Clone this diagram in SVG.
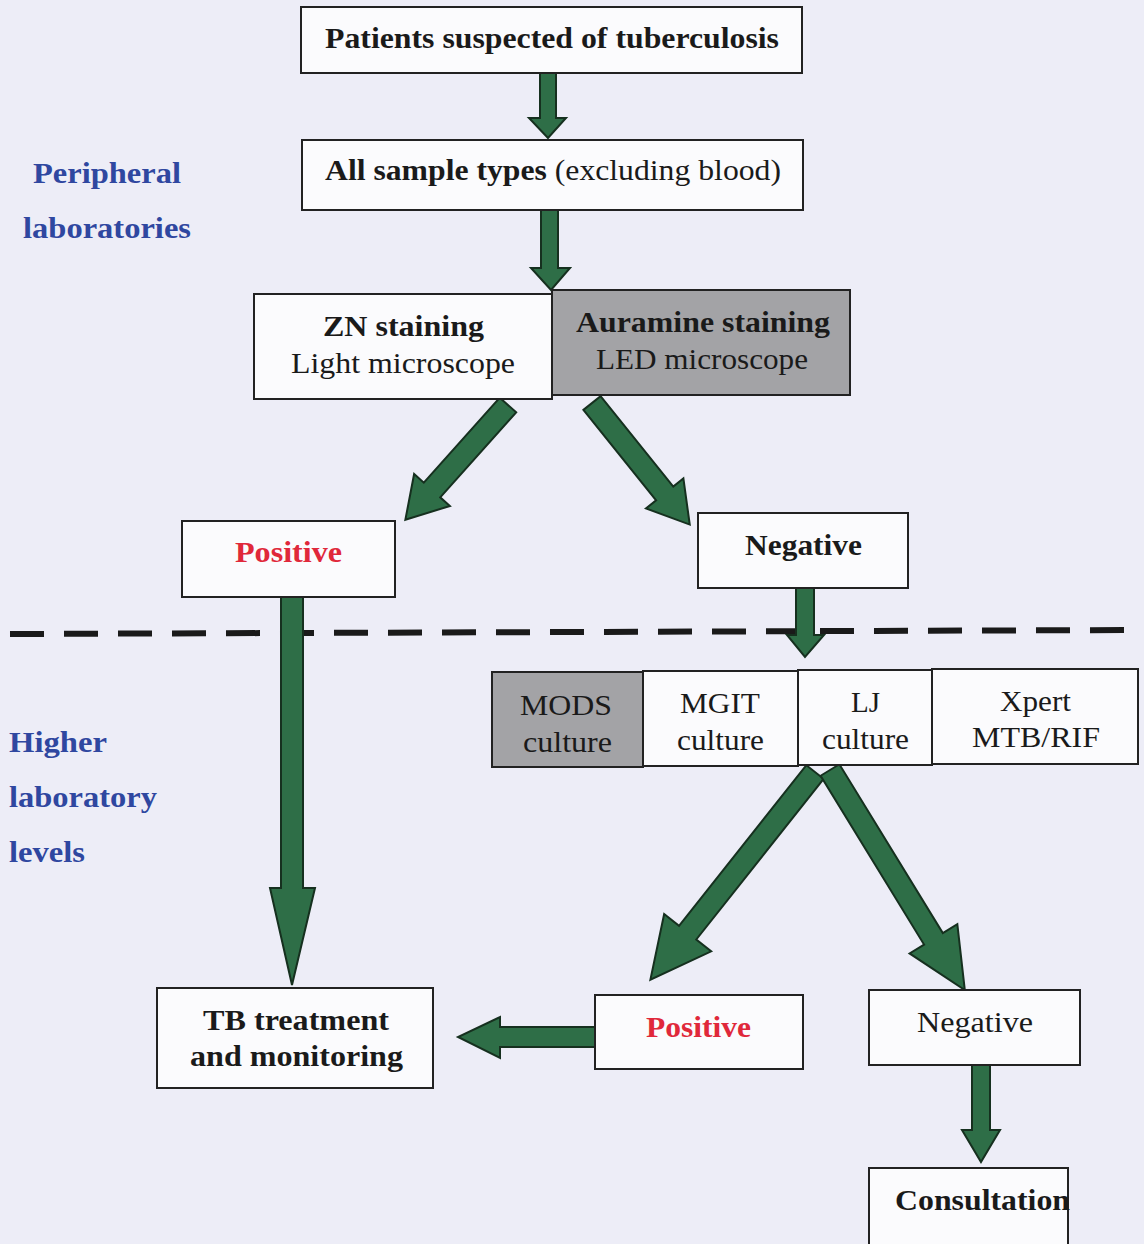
<svg xmlns="http://www.w3.org/2000/svg" width="1144" height="1244" viewBox="0 0 1144 1244" font-family="'Liberation Serif', 'Times New Roman', Times, serif">
<defs>
<style>
.box{fill:#fbfbfd;stroke:#222;stroke-width:2}
.gray{fill:#a3a3a6;stroke:#222;stroke-width:2}
text{font-family:'Liberation Serif','Times New Roman',Times,serif}
.t{font-size:30px;fill:#1a1a1a}
.b{font-weight:bold}
.red{fill:#e0283a;font-weight:bold}
.lab{font-size:29px;font-weight:bold;fill:#2f47a0}
.arr{fill:#2e6e47;stroke:#16301f;stroke-width:2;stroke-linejoin:miter}
</style>
</defs>
<rect width="1144" height="1244" fill="#ededf7"/>
<g id="labels">
<text class="lab" x="33" y="183" textLength="148" lengthAdjust="spacingAndGlyphs">Peripheral</text>
<text class="lab" x="23" y="238" textLength="168" lengthAdjust="spacingAndGlyphs">laboratories</text>
<text class="lab" x="9" y="752" textLength="98" lengthAdjust="spacingAndGlyphs">Higher</text>
<text class="lab" x="9" y="807" textLength="148" lengthAdjust="spacingAndGlyphs">laboratory</text>
<text class="lab" x="9" y="862" textLength="76" lengthAdjust="spacingAndGlyphs">levels</text>
</g>
<g id="divider">
<line x1="10" y1="634" x2="1134" y2="630" stroke="#1a1a1a" stroke-width="6" stroke-dasharray="34,20"/>
</g>
<g id="connectors">
<polygon class="arr" points="540,73 556,73 556,118 566,118 548,138 529,118 540,118"/>
<polygon class="arr" points="541,210 558,210 558,268 570,268 551,290 531,268 541,268"/>
<polygon class="arr" transform="translate(508,405) rotate(41.8)" points="-11,0 11,0 11,114 24,114 0,154 -24,114 -11,114"/>
<polygon class="arr" transform="translate(592,403) rotate(-38.8)" points="-11,0 11,0 11,116 24,116 0,156 -24,116 -11,116"/>
<polygon class="arr" points="796,588 814,588 814,635 824,635 805,657 787,635 796,635"/>
<polygon class="arr" points="281,597 303,597 303,888 315,888 292,985 270,888 281,888"/>
<polygon class="arr" transform="translate(815,772) rotate(38.4)" points="-11,0 11,0 11,205 30,205 0,265 -30,205 -11,205"/>
<polygon class="arr" transform="translate(830,770) rotate(-31.5)" points="-11,0 11,0 11,198 28,198 0,258 -28,198 -11,198"/>
<polygon class="arr" points="595,1027 595,1047 500,1047 500,1058 458,1037 500,1017 500,1027"/>
<polygon class="arr" points="972,1065 990,1065 990,1130 1000,1130 981,1162 962,1130 972,1130"/>
</g>
<g id="n-patients">
<rect class="box" x="301" y="7" width="501" height="66"/>
<text class="t b" x="325" y="48" textLength="454" lengthAdjust="spacingAndGlyphs">Patients suspected of tuberculosis</text>
</g>
<g id="n-samples">
<rect class="box" x="302" y="140" width="501" height="70"/>
<text class="t" x="325" y="180" textLength="456" lengthAdjust="spacingAndGlyphs"><tspan class="b">All sample types</tspan> (excluding blood)</text>
</g>
<g id="n-zn">
<rect class="box" x="254" y="294" width="298" height="105"/>
<text class="t b" x="323" y="336" textLength="161" lengthAdjust="spacingAndGlyphs">ZN staining</text>
<text class="t" x="291" y="373" textLength="224" lengthAdjust="spacingAndGlyphs">Light microscope</text>
</g>
<g id="n-auramine">
<rect class="gray" x="552" y="290" width="298" height="105"/>
<text class="t b" x="576" y="332" textLength="254" lengthAdjust="spacingAndGlyphs">Auramine staining</text>
<text class="t" x="596" y="369" textLength="212" lengthAdjust="spacingAndGlyphs">LED microscope</text>
</g>
<g id="n-positive1">
<rect class="box" x="182" y="521" width="213" height="76"/>
<text class="t red" x="235" y="562" textLength="107" lengthAdjust="spacingAndGlyphs">Positive</text>
</g>
<g id="n-negative1">
<rect class="box" x="698" y="513" width="210" height="75"/>
<text class="t b" x="745" y="555" textLength="117" lengthAdjust="spacingAndGlyphs">Negative</text>
</g>
<g id="n-mods">
<rect class="gray" x="492" y="672" width="151" height="95"/>
<text class="t" x="520" y="715" textLength="92" lengthAdjust="spacingAndGlyphs">MODS</text>
<text class="t" x="523" y="752" textLength="89" lengthAdjust="spacingAndGlyphs">culture</text>
</g>
<g id="n-mgit">
<rect class="box" x="643" y="671" width="155" height="95"/>
<text class="t" x="680" y="713" textLength="80" lengthAdjust="spacingAndGlyphs">MGIT</text>
<text class="t" x="677" y="750" textLength="87" lengthAdjust="spacingAndGlyphs">culture</text>
</g>
<g id="n-lj">
<rect class="box" x="798" y="670" width="134" height="95"/>
<text class="t" x="851" y="712" textLength="29" lengthAdjust="spacingAndGlyphs">LJ</text>
<text class="t" x="822" y="749" textLength="87" lengthAdjust="spacingAndGlyphs">culture</text>
</g>
<g id="n-xpert">
<rect class="box" x="932" y="669" width="206" height="95"/>
<text class="t" x="1000" y="711" textLength="71" lengthAdjust="spacingAndGlyphs">Xpert</text>
<text class="t" x="972" y="747" textLength="128" lengthAdjust="spacingAndGlyphs">MTB/RIF</text>
</g>
<g id="n-treatment">
<rect class="box" x="157" y="988" width="276" height="100"/>
<text class="t b" x="203" y="1030" textLength="186" lengthAdjust="spacingAndGlyphs">TB treatment</text>
<text class="t b" x="190" y="1066" textLength="213" lengthAdjust="spacingAndGlyphs">and monitoring</text>
</g>
<g id="n-positive2">
<rect class="box" x="595" y="995" width="208" height="74"/>
<text class="t red" x="646" y="1037" textLength="105" lengthAdjust="spacingAndGlyphs">Positive</text>
</g>
<g id="n-negative2">
<rect class="box" x="869" y="990" width="211" height="75"/>
<text class="t" x="917" y="1032" textLength="116" lengthAdjust="spacingAndGlyphs">Negative</text>
</g>
<g id="n-consultation">
<rect class="box" x="869" y="1168" width="199" height="90"/>
<text class="t b" x="895" y="1210" textLength="175" lengthAdjust="spacingAndGlyphs">Consultation</text>
</g>
</svg>
